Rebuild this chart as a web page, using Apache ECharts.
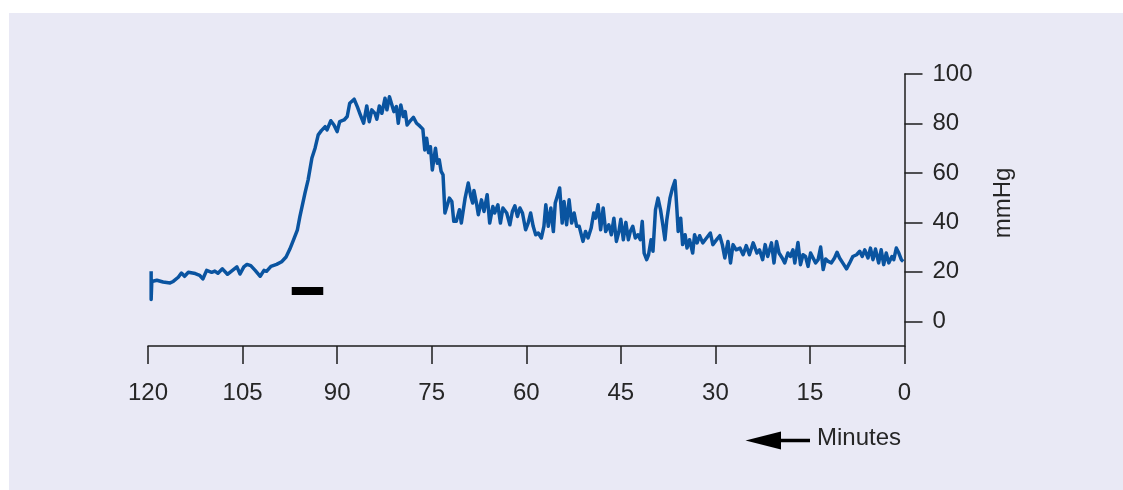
<!DOCTYPE html>
<html>
<head>
<meta charset="utf-8">
<script src="https://cdn.jsdelivr.net/npm/echarts@6/dist/echarts.min.js"></script>
<style>
  html, body { margin: 0; padding: 0; background: #ffffff; }
  #chart { width: 1123px; height: 490px; }
</style>
</head>
<body>
<div id="chart"></div>
<script>
// ---- Data (minutes before end, mmHg) ----
const xTicks = [0, 15, 30, 45, 60, 75, 90, 105, 120];
const yTicks = [0, 20, 40, 60, 80, 100];

const baselinePhase = [
  [119.5,20.2],[119.5,8.8],[119.4,16.1],[118.6,16.6],[117.6,15.9],[116.5,15.5],[116.0,16.1],[115.2,17.8],
  [114.7,19.5],[114.2,18.2],[113.6,19.8],[112.5,19.3],[111.8,18.6],[111.3,17.1],[110.7,20.6],[109.9,19.8],
  [109.4,20.3],[108.9,19.4],[108.2,21.2],[107.4,19.0],[106.6,20.6],[105.9,22.0],[105.4,19.1],[104.8,22.0],
  [104.3,23.0],[103.7,22.5],[103.0,20.6],[102.2,18.2],[101.6,20.6],[101.2,20.2],[100.5,22.2],[99.6,23.0],
  [98.8,24.1],[98.1,26.0]
];
const risePhase = [
  [97.5,29.2],[96.9,33.0],[96.3,37.0],[95.9,42.4],[95.1,51.8],[94.6,57.2],[94.0,66.0],[93.5,70.0],
  [93.0,75.4],[92.5,77.1]
];
const plateauPhase = [
  [91.9,78.7],[91.6,77.4],[91.0,81.1],[90.5,79.4],[90.0,76.7],[89.6,80.7],[88.9,81.4],[88.4,82.8],
  [88.0,88.2],[87.3,89.8],[86.8,86.8],[86.3,83.4],[85.8,80.1],[85.3,87.1],[84.9,80.7],[84.5,85.5],
  [84.0,84.1],[83.7,81.7],[83.3,87.1],[82.9,84.1],[82.4,90.2],[82.1,85.5],[81.7,90.8],[81.4,91.5],
  [81.0,84.8],[80.6,86.8],[80.3,80.1],[79.9,87.5],[79.5,82.8],[79.2,84.8],[78.9,79.4],[78.5,80.7],
  [77.9,82.5],[77.4,80.1],[76.9,79.0],[76.4,77.7]
];
const declinePhase = [
  [76.1,69.3],[75.8,74.0],[75.5,68.2],[75.2,70.6],[74.9,61.2],[74.4,70.0],[74.1,63.9],[73.8,65.3],
  [73.5,60.6],[73.2,59.2],[72.9,43.8],[72.2,49.8],[71.8,48.4],[71.5,40.4],[71.1,40.4],[70.6,45.1],
  [70.3,39.7]
];
const middlePhase = [
  [69.7,49.8],[69.2,55.9],[68.8,50.5],[68.5,47.8],[68.3,52.9],[67.9,47.8],[67.6,43.1],[67.1,49.1],
  [66.7,44.4],[66.2,51.2],[65.8,39.7],[65.3,46.4],[65.0,43.8],[64.5,47.1],[64.1,39.7],[63.7,45.8],
  [63.1,43.8],[62.6,39.0],[62.2,44.4],[61.8,46.7],[61.4,42.4],[61.0,45.8],[60.6,43.8],[60.1,37.0],
  [59.7,39.7],[59.3,43.8],[58.9,38.4],[58.5,35.0],[58.1,35.7],[57.6,33.7],[57.2,38.4],[56.9,47.1],
  [56.5,38.4],[56.1,45.8],[55.7,36.3],[55.4,47.8],[55.0,51.2],[54.7,53.9],[54.3,39.7],[54.0,48.4],
  [53.6,39.0],[53.2,49.1],[52.8,39.7],[52.4,43.8],[52.0,38.4],[51.6,38.4]
];
const secondPhase = [
  [51.0,32.3],[50.6,36.3],[50.2,33.7],[49.7,37.7],[49.3,43.8],[49.0,41.7],[48.6,47.1],[48.2,37.0],
  [47.8,45.8],[47.4,36.3],[46.9,39.0],[46.5,35.0],[46.1,41.7],[45.7,32.3],[45.3,36.3],[45.0,41.3],
  [44.6,33.0],[44.2,40.0],[43.8,33.0],[43.5,36.3],[43.1,38.4],[42.7,33.7],[42.3,35.0],[41.9,33.0],
  [41.6,40.4],[41.3,27.6],[40.9,24.9],[40.6,26.9],[40.2,33.0],[39.9,28.3],[39.5,45.1],[39.1,49.8],
  [38.7,45.1],[38.3,38.4],[38.0,33.0],[37.7,41.1],[37.2,49.8],[36.8,53.9],[36.4,56.9],[36.1,45.1],
  [35.9,36.3],[35.5,41.7],[35.2,31.0],[34.8,35.0],[34.5,29.6],[34.1,33.0],[33.6,27.6],[33.3,35.0],
  [32.9,31.7],[32.5,34.6],[32.0,31.7],[31.4,33.7],[30.8,35.7],[30.4,31.0],[29.8,33.0],[29.3,34.6],
  [28.9,31.0],[28.5,25.6],[28.0,32.3],[27.6,23.6],[27.2,31.0],[26.7,28.9],[26.1,29.6]
];
const tailPhase = [
  [25.6,26.9],[25.1,30.6],[24.6,26.9],[24.0,31.7],[23.8,32.3],[23.4,27.6],[23.0,28.9],[22.5,24.9],
  [22.1,31.0],[21.7,26.2],[21.1,31.7],[20.7,23.6],[20.3,32.3],[19.9,27.6],[19.4,25.6],[19.0,23.6],
  [18.5,27.6],[18.1,26.2],[17.7,28.9],[17.4,23.6],[16.9,31.9],[16.5,22.9],[16.1,26.9],[15.7,26.2],
  [15.3,22.2],[14.9,27.6],[14.5,25.6],[14.1,23.6],[13.7,24.9],[13.3,30.0],[12.9,20.9],[12.5,25.2],
  [12.1,24.2],[11.6,23.6],[11.1,25.6],[10.7,27.9],[10.3,25.6],[9.8,23.6],[9.2,21.2],[8.7,23.6],
  [8.2,26.2],[7.6,26.9],[7.1,28.3],[6.7,26.2],[6.3,28.9],[5.8,25.6],[5.4,29.6],[5.0,24.9],
  [4.6,29.2],[4.1,23.6],[3.7,28.9],[3.3,22.9],[2.9,27.6],[2.5,23.6],[2.0,26.2],[1.7,24.9],
  [1.3,29.6],[0.9,27.6],[0.5,24.9],[0.2,24.2]
];
const infusionBar = [[97.2,12.2],[92.2,12.2]];

const trace = [].concat(baselinePhase, risePhase, plateauPhase, declinePhase, middlePhase, secondPhase, tailPhase);

// ---- Chart ----
const chart = echarts.init(document.getElementById('chart'), null, { renderer: 'canvas' });
const FONT = 'Liberation Sans, Helvetica, Arial, sans-serif';
const INK = '#262626';

chart.setOption({
  animation: false,
  backgroundColor: '#ffffff',
  grid: { left: 148, right: 218.5, top: 74, bottom: 144 },
  xAxis: {
    type: 'value', inverse: true, min: 0, max: 120, interval: 15,
    axisLine: { show: true, onZero: false, lineStyle: { color: '#1c1c1c', width: 1.5 } },
    axisTick: { show: true, length: 18, lineStyle: { color: '#1c1c1c', width: 1.5 } },
    splitLine: { show: false },
    axisLabel: { fontSize: 24, color: INK, fontFamily: FONT, margin: 35,
      customValues: xTicks }
  },
  yAxis: {
    type: 'value', position: 'right', min: -10, max: 100,
    axisLine: { show: true, onZero: false, lineStyle: { color: '#1c1c1c', width: 1.5 } },
    axisTick: { show: true, length: 18, lineStyle: { color: '#1c1c1c', width: 1.5 }, customValues: yTicks },
    splitLine: { show: false },
    axisLabel: { fontSize: 24, color: INK, fontFamily: FONT, margin: 28, customValues: yTicks }
  },
  graphic: [
    { type: 'rect', z: -100, shape: { x: 9, y: 13, width: 1114, height: 477 },
      style: { fill: '#e9e9f5' }, silent: true },
    { type: 'text', x: 1003, y: 203, rotation: Math.PI / 2,
      style: { text: 'mmHg', font: '24px ' + FONT, fill: INK, align: 'center', verticalAlign: 'middle' } },
    { type: 'text', x: 817, y: 438,
      style: { text: 'Minutes', font: '24px ' + FONT, fill: INK, align: 'left', verticalAlign: 'middle' } },
    { type: 'polygon', shape: { points: [[745.5, 440.5], [781, 431.5], [781, 449.5]] },
      style: { fill: '#000' } },
    { type: 'line', shape: { x1: 778, y1: 440.5, x2: 810, y2: 440.5 },
      style: { stroke: '#000', lineWidth: 3.5 } }
  ],
  series: [
    {
      type: 'line', data: trace, showSymbol: false, smooth: false,
      lineStyle: { color: '#0a54a0', width: 3.5, join: 'round' }, z: 3
    },
    {
      type: 'line', data: infusionBar, showSymbol: false,
      lineStyle: { color: '#000000', width: 8, cap: 'butt' }, z: 3
    }
  ]
});
</script>
</body>
</html>
